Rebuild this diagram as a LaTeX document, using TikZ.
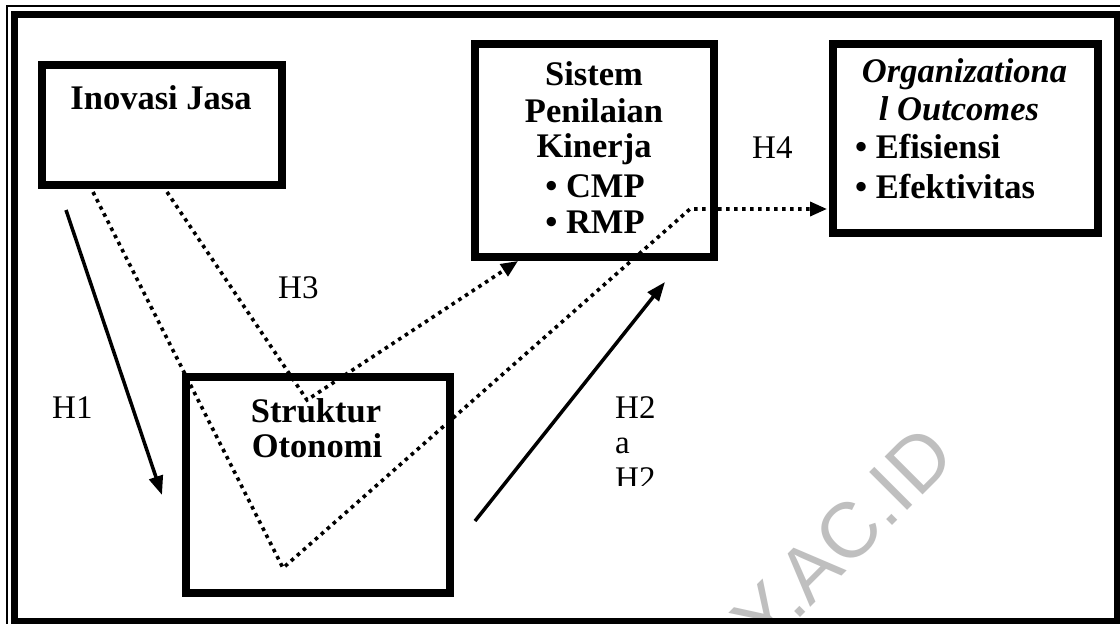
\documentclass[tikz,border=0pt]{standalone}
\usepackage{fontspec}
\setmainfont{Liberation Serif}
\newfontfamily\wmfont{Liberation Sans}
\usetikzlibrary{arrows.meta}
\begin{document}
\begin{tikzpicture}[x=1pt,y=-1pt,
  box/.style 2 args={draw,line width=7.5pt,rectangle,inner sep=0pt,minimum width=#1,minimum height=#2},
  btxt/.style={inner sep=0pt,font=\fontsize{34.5}{36}\selectfont\bfseries},
  bitxt/.style={inner sep=0pt,font=\fontsize{34.5}{36}\selectfont\bfseries\itshape},
  lbl/.style={inner sep=0pt,anchor=base west,font=\fontsize{33}{36}\selectfont},
  solidarrow/.style={line width=3.5pt,-{Triangle[length=19pt,width=14pt]}},
  dotline/.style={line width=3.6pt,dash pattern=on 3.6pt off 4.4pt},
  dotarrow/.style={dotline,-{Triangle[length=17pt,width=14pt]}},
  wm/.style={inner sep=0pt,text=black!25,font=\wmfont\fontsize{78}{78}\selectfont}]
\useasboundingbox (0,0) rectangle (1120,624);
\clip (0,0) rectangle (1120,624);
\fill[white] (0,0) rectangle (1120,624);
% watermark
\node[wm,rotate=45,anchor=base east] (wmark) at (958,460) {Y.AC.ID};
% frame
\draw[line width=1.8pt] (7,640) -- (7,6) -- (1140,6);
\draw[line width=7pt] (14,14) rectangle (1117,621);
% boxes
\node[box={240}{120}] (inov) at (162,125) {};
\node[box={239}{213}] (spk) at (594.5,150.5) {};
\node[box={265}{189}] (org) at (965.5,138.5) {};
\node[box={264}{216}] (sto) at (318,485) {};
% box texts
\node[btxt,anchor=base] (tinov) at (161,109) {Inovasi Jasa};
\node[btxt,anchor=base] (ts1) at (594,85) {Sistem};
\node[btxt,anchor=base] (ts2) at (594,122) {Penilaian};
\node[btxt,anchor=base] (ts3) at (594,157) {Kinerja};
\node[btxt,anchor=base] (ts4) at (595,197) {\textbullet\ CMP};
\node[btxt,anchor=base] (ts5) at (595,233) {\textbullet\ RMP};
\node[bitxt,anchor=base] (to1) at (964.5,82) {Organizationa};
\node[bitxt,anchor=base] (to2) at (959,120) {l Outcomes};
\node[btxt,anchor=base west] (to3) at (855,158) {\textbullet\ Efisiensi};
\node[btxt,anchor=base west] (to4) at (855,198) {\textbullet\ Efektivitas};
\node[btxt,anchor=base] (tst1) at (316,422) {Struktur};
\node[btxt,anchor=base] (tst2) at (317,457) {Otonomi};
% labels
\node[lbl] (h1) at (52,418) {H1};
\node[lbl] (h3) at (278,298) {H3};
\node[lbl] (h4) at (752,158) {H4};
\begin{scope}
\clip (600,370) rectangle (720,485);
\node[lbl] (h2a) at (615,418) {H2};
\node[lbl] (h2b) at (615,453) {a};
\node[lbl] (h2c) at (615,489) {H2};
\end{scope}
% connector points
\coordinate (h1s) at (66,210);
\coordinate (h1e) at (162,495);
\coordinate (h2s) at (475,521);
\coordinate (h2e) at (665,282);
\coordinate (d1s) at (93,192);
\coordinate (d1v) at (283,568);
\coordinate (d1k) at (690,209);
\coordinate (d1e) at (827,209);
\coordinate (d2s) at (167,192);
\coordinate (d2v) at (307,400);
\coordinate (d2e) at (518,261);
% connectors
\draw[solidarrow] (h1s) -- (h1e);
\draw[solidarrow] (h2s) -- (h2e);
\draw[dotarrow] (d1s) -- (d1v) -- (d1k) -- (d1e);
\draw[dotarrow] (d2s) -- (d2v) -- (d2e);
\end{tikzpicture}
\end{document}
